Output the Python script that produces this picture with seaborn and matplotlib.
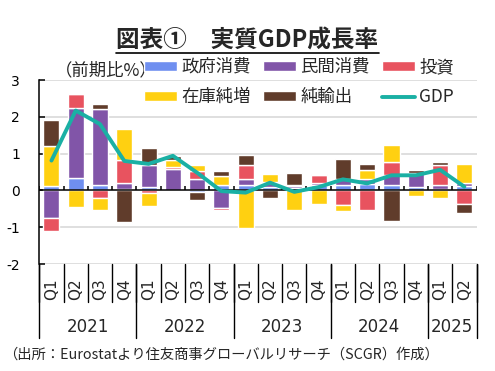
import numpy as np
import pandas as pd
import matplotlib.pyplot as plt
import seaborn as sns
from matplotlib.lines import Line2D
import matplotlib.transforms as mtransforms

# 四半期ラベル
quarters = ["Q1", "Q2", "Q3", "Q4"] * 4 + ["Q1", "Q2"]
years = ["2021", "2022", "2023", "2024", "2025"]
year_counts = [4, 4, 4, 4, 2]

# 寄与度（前期比%）
gov = [0.12, 0.35, 0.15, 0.03, 0.10, 0.00, -0.05, 0.14, 0.14, 0.10, 0.07, 0.14,
       0.14, 0.17, 0.16, 0.10, 0.05, 0.12]
priv = [-0.75, 1.89, 2.05, 0.16, 0.58, 0.59, 0.32, -0.47, 0.18, 0.10, 0.05, 0.07,
        0.18, 0.15, 0.27, 0.38, 0.09, 0.09]
invest = [-0.36, 0.38, -0.22, 0.63, -0.06, 0.05, 0.21, -0.06, 0.36, 0.02, 0.04, 0.20,
          -0.41, -0.54, 0.33, 0.00, 0.55, -0.38]
stock = [1.09, -0.45, -0.32, 0.86, -0.36, 0.19, 0.15, 0.24, -1.02, 0.22, -0.52, -0.36,
         -0.14, 0.23, 0.48, -0.14, -0.22, 0.50]
netexp = [0.71, 0.00, 0.14, -0.86, 0.46, 0.11, -0.20, 0.15, 0.28, -0.22, 0.32, 0.04,
          0.53, 0.18, -0.84, 0.07, 0.09, -0.23]
gdp = [0.81, 2.17, 1.80, 0.80, 0.72, 0.94, 0.48, -0.02, -0.06, 0.21, -0.04, 0.09,
       0.30, 0.19, 0.41, 0.41, 0.56, 0.10]

series_names = ["政府消費", "民間消費", "投資", "在庫純増", "純輸出"]
colors = ["#6f8ff0", "#8155a8", "#e8535f", "#ffd011", "#603c2b"]
gdp_color = "#1ab0a4"

sns.set_theme(style="white")
plt.rcParams['font.family'] = ['Noto Sans CJK JP', 'DejaVu Sans']
plt.rcParams['axes.unicode_minus'] = False

W, H = 495, 371
fig = plt.figure(figsize=(W / 100, H / 100), dpi=100)
ax = fig.add_axes([39.3 / W, 1 - 264 / H, (476.5 - 39.3) / W, (264 - 80) / H])

x = np.arange(len(quarters))
pos_base = np.zeros(len(x))
neg_base = np.zeros(len(x))
handles = {}
for name, vals, c in zip(series_names, [gov, priv, invest, stock, netexp], colors):
    v = np.array(vals)
    bottom = np.where(v >= 0, pos_base, neg_base)
    handles[name] = ax.bar(x, v, width=0.66, bottom=bottom, color=c, label=name, zorder=2)
    pos_base += np.where(v >= 0, v, 0)
    neg_base += np.where(v < 0, v, 0)

df_gdp = pd.DataFrame({"x": x, "gdp": gdp})
sns.lineplot(data=df_gdp, x="x", y="gdp", color=gdp_color, linewidth=2.8, ax=ax,
             legend=False, zorder=4)
gdp_line = ax.lines[-1]

# 軸・グリッド
ax.set_xlim(-0.5, len(x) - 0.5)
ax.set_ylim(-2, 3)
ax.set_yticks(range(-2, 4))
for yv in [-2, -1, 1, 2, 3]:
    ax.axhline(yv, color="#d9d9d9", lw=1.2, zorder=0)
ax.axhline(0, color="black", lw=1.1, zorder=3)
ax.vlines(np.arange(-0.5, len(x), 1), 0, 0.11, color="black", lw=1.1, zorder=3)
ax.set_xticks([])
ax.set_xlabel("")
ax.set_ylabel("")
for s in ["top", "right", "bottom"]:
    ax.spines[s].set_visible(False)
ax.spines["left"].set_color("black")
ax.spines["left"].set_linewidth(1.1)
ax.tick_params(axis="y", direction="in", length=4, width=1.1, pad=14,
               labelsize=10, colors="black", left=True)
for lab in ax.get_yticklabels():
    lab.set_fontfamily("DejaVu Sans")

# 多段カテゴリラベル
trans = mtransforms.blended_transform_factory(ax.transData, ax.transAxes)
for i, q in enumerate(quarters):
    ax.text(i, -0.136, q, rotation=90, ha="center", va="center", fontsize=11,
            family="DejaVu Sans", transform=trans)
for b in np.arange(-0.5, len(x), 1):
    ax.plot([b, b], [0, -0.207], color="black", lw=1, transform=trans, clip_on=False)
start = 0
bounds = [-0.5]
for yr, n in zip(years, year_counts):
    ax.text(start + (n - 1) / 2, -0.342, yr, ha="center", va="center", fontsize=12,
            family="DejaVu Sans", transform=trans)
    start += n
    bounds.append(start - 0.5)
for b in bounds:
    ax.plot([b, b], [0, -0.402], color="black", lw=1, transform=trans, clip_on=False)

# タイトル（下線付き）
title = fig.text(0.5, 1 - 41 / H, "図表①　実質GDP成長率", ha="center", va="center",
                 fontsize=17, fontweight="bold")
fig.text(55 / W, 1 - 70 / H, "（前期比%）", ha="left", va="center", fontsize=12.5)

# 凡例（行優先で並べる）
leg_handles = [handles["政府消費"], handles["在庫純増"], handles["民間消費"],
               handles["純輸出"], handles["投資"], gdp_line]
leg_labels = ["政府消費", "在庫純増", "民間消費", "純輸出", "投資", "GDP"]
fig.legend(leg_handles, leg_labels, ncol=3, loc="upper left",
           bbox_to_anchor=(144 / W, 1 - 58 / H), frameon=False, fontsize=12.5,
           handlelength=1.9, handleheight=0.5, handletextpad=0.25,
           columnspacing=0.7, labelspacing=0.7, borderpad=0, borderaxespad=0)

fig.text(3 / W, 1 - 355 / H, "（出所：Eurostatより住友商事グローバルリサーチ（SCGR）作成）",
         ha="left", va="center", fontsize=10.3)

fig.canvas.draw()
bb = title.get_window_extent()
inv = fig.transFigure.inverted()
x0 = inv.transform((bb.x0, 0))[0]
x1 = inv.transform((bb.x1, 0))[0]
fig.add_artist(Line2D([x0, x1], [1 - 53 / H] * 2, color="black", lw=1.2,
                      transform=fig.transFigure))

fig.savefig("out.png", dpi=100)
